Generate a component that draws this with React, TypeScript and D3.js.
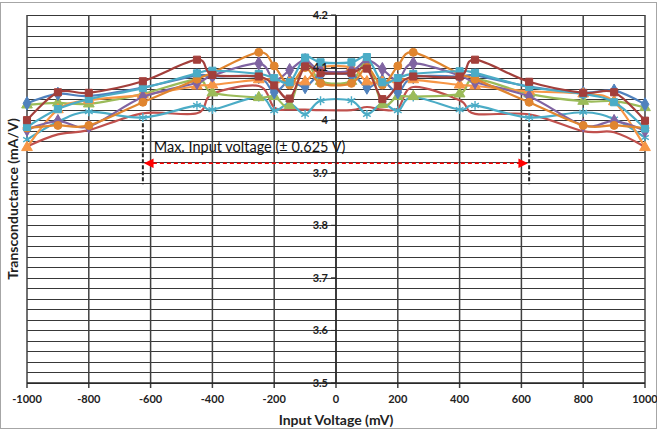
import React from 'react';
import * as d3 from 'd3';

// input voltage (mV) at which every curve was sampled
const X_VALUES = [-1000, -900, -800, -625, -450, -400, -250, -200, -150, -100, -50, 50, 100, 150, 200, 250, 400, 450, 625, 800, 900, 1000];

// transconductance (mA/V), one list per curve
const BLUE_DIAMOND = [4.032, 4.05, 4.046, 4.062, 4.085, 4.083, 4.082, 4.053, 4.075, 4.063, 4.086, 4.086, 4.062, 4.075, 4.053, 4.082, 4.083, 4.085, 4.064, 4.052, 4.056, 4.03];
const RED_SQUARE = [4.0, 4.053, 4.052, 4.074, 4.115, 4.086, 4.083, 4.066, 4.041, 4.102, 4.09, 4.09, 4.098, 4.04, 4.065, 4.083, 4.083, 4.115, 4.073, 4.052, 4.053, 3.999];
const GREEN_TRIANGLE = [4.029, 4.033, 4.031, 4.05, 4.077, 4.052, 4.043, 4.045, 4.028, 4.11, 4.074, 4.074, 4.11, 4.03, 4.045, 4.045, 4.05, 4.078, 4.05, 4.036, 4.036, 4.024];
const PURPLE_DIAMOND = [3.982, 3.998, 3.988, 4.044, 4.071, 4.085, 4.108, 4.076, 4.095, 4.114, 4.094, 4.094, 4.114, 4.097, 4.076, 4.108, 4.085, 4.072, 4.045, 3.99, 3.998, 3.98];
const CYAN_STAR = [3.963, 3.997, 4.016, 4.005, 4.028, 4.02, 4.044, 4.018, 4.032, 4.011, 4.037, 4.037, 4.011, 4.032, 4.018, 4.044, 4.02, 4.028, 4.005, 4.015, 4.002, 3.967];
const ORANGE_CIRCLE = [3.985, 3.99, 3.99, 4.034, 4.078, 4.09, 4.129, 4.103, 4.067, 4.1, 4.07, 4.07, 4.1, 4.067, 4.103, 4.129, 4.088, 4.078, 4.034, 3.99, 3.99, 3.985];
const CYAN_SQUARE = [3.987, 4.021, 4.04, 4.061, 4.089, 4.094, 4.088, 4.08, 4.072, 4.119, 4.11, 4.11, 4.12, 4.072, 4.08, 4.088, 4.093, 4.09, 4.063, 4.05, 4.034, 3.984];
const ORANGE_TRIANGLE = [3.948, 4.02, 4.038, 4.048, 4.065, 4.067, 4.077, 4.077, 4.073, 4.073, 4.1, 4.1, 4.073, 4.073, 4.077, 4.077, 4.067, 4.065, 4.055, 4.05, 4.035, 3.948];
const RED_PLAIN = [3.95, 3.973, 3.981, 4.013, 4.013, 4.05, 4.065, 4.024, 4.02, 4.02, 4.019, 4.019, 4.025, 4.02, 4.022, 4.063, 4.038, 4.012, 4.011, 3.979, 3.977, 3.949];

const X_TICKS = [-1000, -800, -600, -400, -200, 0, 200, 400, 600, 800, 1000];
const Y_TICKS = [3.5, 3.6, 3.7, 3.8, 3.9, 4.0, 4.1, 4.2];

const MAX_INPUT = 625;

const series = [
  { values: RED_PLAIN, color: '#C0504D', marker: null },
  { values: CYAN_STAR, color: '#4BACC6', marker: 'star' },
  { values: GREEN_TRIANGLE, color: '#9BBB59', marker: 'triangle' },
  { values: BLUE_DIAMOND, color: '#4F81BD', marker: 'diamond' },
  { values: ORANGE_TRIANGLE, color: '#F79646', marker: 'triangle' },
  { values: PURPLE_DIAMOND, color: '#8064A2', marker: 'diamond' },
  { values: ORANGE_CIRCLE, color: '#E0852F', marker: 'circle' },
  { values: CYAN_SQUARE, color: '#4BACC6', marker: 'square' },
  { values: RED_SQUARE, color: '#A33F3B', marker: 'square' },
];

const symbols = {
  diamond: d3.symbol(d3.symbolDiamond, 52),
  square: d3.symbol(d3.symbolSquare, 50),
  triangle: d3.symbol(d3.symbolTriangle, 50),
  circle: d3.symbol(d3.symbolCircle, 50),
  star: d3.symbol(d3.symbolAsterisk, 55),
};

const W = 657;
const H = 429;
const font = 'Lato, "Open Sans", sans-serif';

export default function App() {
  const x = d3.scaleLinear().domain([-1000, 1000]).range([27, 645]);
  const y = d3.scaleLinear().domain([3.5, 4.2]).range([383, 15]);

  const line = d3.line<number>()
    .x((_, i) => x(X_VALUES[i]))
    .y(d => y(d))
    .curve(d3.curveCardinal.tension(0));

  const minorY = d3.range(0, 36).map(i => 3.5 + i * 0.02);
  const fmt = (v: number) => String(+v.toFixed(1));

  const arrowY = y(3.918);

  return (
    <svg width={W} height={H} style={{ position: 'absolute', left: 0, top: 0, background: '#fff' }}>
      <defs>
        <marker id="ah" viewBox="0 0 10 10" refX="8" refY="5" markerWidth="6" markerHeight="6" markerUnits="strokeWidth" orient="auto-start-reverse">
          <path d="M0,0 L10,5 L0,10 z" fill="#FF0000" />
        </marker>
      </defs>
      <rect x={0.5} y={2.5} width={W - 1} height={H - 3} fill="#fff" stroke="#A6A6A6" />

      {/* grid */}
      <g>
        {minorY.map((v, i) => (
          <line key={'h' + i} x1={x(-1000)} x2={x(1000)} y1={Math.round(y(v)) + 0.5} y2={Math.round(y(v)) + 0.5} stroke="#383838" strokeWidth={1} />
        ))}
        {X_TICKS.map(v => (
          <line key={'v' + v} x1={x(v)} x2={x(v)} y1={y(4.2)} y2={y(3.5) + 5} stroke="#404040" strokeWidth={1.5} />
        ))}
        <line x1={x(-1000)} x2={x(1000)} y1={y(3.5)} y2={y(3.5)} stroke="#262626" strokeWidth={1.4} />
      </g>

      {/* annotation */}
      {[-MAX_INPUT, MAX_INPUT].map(v => (
        <line key={'m' + v} x1={x(v)} x2={x(v)} y1={y(3.994)} y2={y(3.878)} stroke="#262626" strokeWidth={2} strokeDasharray="4,2" />
      ))}
      <line x1={x(-MAX_INPUT) + 3} x2={x(MAX_INPUT) - 3} y1={arrowY} y2={arrowY} stroke="#FF0000" strokeWidth={1.6} strokeDasharray="4,3" markerStart="url(#ah)" markerEnd="url(#ah)" />
      <text x={x(-590)} y={y(3.939)} fontFamily={font} fontSize={14.5} fill="#111">Max. Input voltage (± 0.625 V)</text>

      {/* curves */}
      {series.map((s, i) => (
        <g key={'s' + i}>
          <path d={line(s.values) || ''} fill="none" stroke={s.color} strokeWidth={2.2} />
          {s.marker && s.values.map((v, j) => (
            <path key={j} transform={`translate(${x(X_VALUES[j])},${y(v)})`} d={symbols[s.marker as keyof typeof symbols]() || ''}
              fill={s.marker === 'star' ? 'none' : s.color} stroke={s.color} strokeWidth={s.marker === 'star' ? 1.4 : 1} />
          ))}
        </g>
      ))}

      {/* y axis at x = 0 */}
      <line x1={x(0)} x2={x(0)} y1={y(4.2)} y2={y(3.5)} stroke="#262626" strokeWidth={1.4} />
      {Y_TICKS.map(v => (
        <g key={'yt' + v}>
          <line x1={x(0) - 5} x2={x(0)} y1={y(v)} y2={y(v)} stroke="#262626" />
          <text x={x(0) - 8} y={y(v)} dy="0.35em" textAnchor="end" fontFamily={font} fontWeight="bold" fontSize={11} fill="#222">{fmt(v)}</text>
        </g>
      ))}

      {/* x tick labels */}
      {X_TICKS.map(v => (
        <text key={'xt' + v} x={x(v)} y={y(3.5) + 20} textAnchor="middle" fontFamily={font} fontWeight="bold" fontSize={11} fill="#222">{v}</text>
      ))}

      <text x={x(0)} y={425} textAnchor="middle" fontFamily={font} fontWeight="bold" fontSize={14} fill="#222">Input Voltage (mV)</text>
      <text transform={`translate(18,${(y(4.2) + y(3.5)) / 2}) rotate(-90)`} textAnchor="middle" fontFamily={font} fontWeight="bold" fontSize={14} fill="#222">Transconductance (mA/V)</text>
    </svg>
  );
}
